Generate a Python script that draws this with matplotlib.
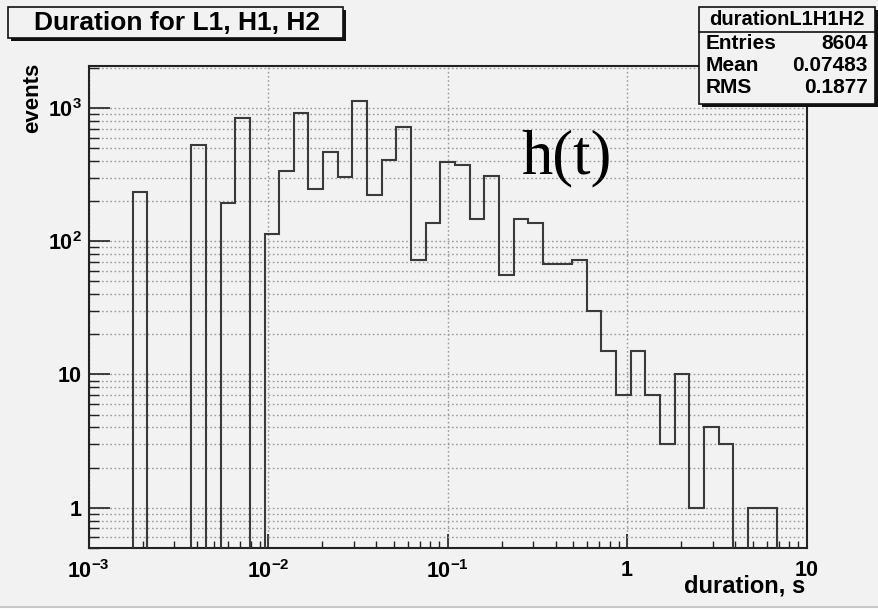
import numpy as np
import matplotlib
matplotlib.use('Agg')
import matplotlib.pyplot as plt
from matplotlib.patches import Rectangle
from matplotlib.lines import Line2D
from matplotlib.ticker import LogLocator, FixedLocator, FixedFormatter, NullFormatter

# 49 log-spaced bins between 1 ms and 10 s
n_bins = 49
x_min, x_max = 1e-3, 10.0
counts = [0, 0, 0, 235, 0, 0, 0, 530, 0, 194,
          841, 0, 113, 338, 922, 246, 469, 303, 1135, 223,
          404, 724, 72, 137, 393, 373, 146, 310, 56, 146,
          138, 68, 68, 72, 30, 15, 7, 15, 7, 3,
          10, 1, 4, 3, 0, 1, 1, 0, 0]

hist_name = 'durationL1H1H2'
stats_labels = ['Entries', 'Mean', 'RMS']
stats_values = ['8604', '0.07483', '0.1877']

x_ticks = [1e-3, 1e-2, 1e-1, 1, 10]
x_ticklabels = ['$10^{-3}$', '$10^{-2}$', '$10^{-1}$', '1', '10']
y_ticks = [1, 10, 100, 1000]
y_ticklabels = ['1', '10', '$10^{2}$', '$10^{3}$']

W, H = 879, 611
bg = '#f2f2f2'

plt.rcParams['font.family'] = 'Liberation Sans'
plt.rcParams['font.weight'] = 'bold'
plt.rcParams['mathtext.fontset'] = 'custom'
plt.rcParams['mathtext.rm'] = 'Liberation Sans:bold'
plt.rcParams['mathtext.it'] = 'Liberation Sans:bold'
plt.rcParams['mathtext.bf'] = 'Liberation Sans:bold'


def fx(px):
    return px / W


def fy(py):
    return 1 - py / H


fig = plt.figure(figsize=(W / 100, H / 100), dpi=100, facecolor=bg)
ax = fig.add_axes([fx(88.7), fy(547.7), fx(806.6) - fx(88.7), fy(65.7) - fy(547.7)])
ax.set_facecolor(bg)
ax.set_xscale('log')
ax.set_yscale('log')
y_lo, y_hi = 0.5, 2080
ax.set_xlim(x_min, x_max)
ax.set_ylim(y_lo, y_hi)

edges = np.logspace(np.log10(x_min), np.log10(x_max), n_bins + 1)
vals = np.array(counts, dtype=float)
vals_draw = np.where(vals > 0, vals, y_lo * 0.5)
ax.stairs(vals_draw, edges, baseline=y_lo * 0.5, color='#3a3a3a', lw=1.5, zorder=3)

# ticks
ax.xaxis.set_major_locator(FixedLocator(x_ticks))
ax.xaxis.set_major_formatter(FixedFormatter(x_ticklabels))
ax.xaxis.set_minor_locator(LogLocator(base=10, subs=np.arange(2, 10), numticks=20))
ax.xaxis.set_minor_formatter(NullFormatter())
ax.yaxis.set_major_locator(FixedLocator(y_ticks))
ax.yaxis.set_major_formatter(FixedFormatter(y_ticklabels))
ax.yaxis.set_minor_locator(LogLocator(base=10, subs=np.arange(2, 10), numticks=20))
ax.yaxis.set_minor_formatter(NullFormatter())
ax.tick_params(axis='x', which='major', direction='in', length=10, width=1.2,
               labelsize=15.5, pad=9, top=False, color='#222')
ax.tick_params(axis='x', which='minor', direction='in', length=5, width=1, top=False, color='#222')
ax.tick_params(axis='y', which='major', direction='in', length=15, width=1.2,
               labelsize=15.5, pad=5, right=False, color='#222')
ax.tick_params(axis='y', which='minor', direction='in', length=7.5, width=1, right=False, color='#222')

dot = (0, (1.2, 1.8))
ax.grid(True, axis='x', which='major', color='#9a9a9a', lw=1, linestyle=dot, zorder=1)
ax.grid(True, axis='y', which='both', color='#9a9a9a', lw=1, linestyle=dot, zorder=1)
for s in ax.spines.values():
    s.set_linewidth(1.5)
    s.set_color('#222')

fig.text(fx(805), fy(593), 'duration, s', ha='right', va='baseline', fontsize=17, fontweight='bold')
fig.text(fx(33), fy(63), 'events', rotation=90, ha='center', va='top', fontsize=16, fontweight='bold')
fig.text(fx(521), fy(173), 'h(t)', family='Liberation Serif', fontweight='normal',
         fontsize=45, ha='left', va='baseline')


def shadow_box(x0, y0, x1, y1):
    fig.patches.append(Rectangle((fx(x0 + 3), fy(y1 + 3)), fx(x1 - x0), fy(y0) - fy(y1),
                                 transform=fig.transFigure, facecolor='#111', edgecolor='none', zorder=5))
    fig.patches.append(Rectangle((fx(x0), fy(y1)), fx(x1 - x0), fy(y0) - fy(y1),
                                 transform=fig.transFigure, facecolor=bg, edgecolor='#111', lw=1.2, zorder=6))


# title box
shadow_box(8, 7, 343, 38)
fig.text(fx(177), fy(23), 'Duration for L1, H1, H2', ha='center', va='center',
         fontsize=19, fontweight='bold', zorder=7)

# stats box
shadow_box(699, 7, 875, 104)
fig.lines.append(Line2D([fx(699), fx(875)], [fy(32), fy(32)], transform=fig.transFigure,
                        color='#111', lw=1.2, zorder=7))
fig.text(fx(787), fy(19.5), hist_name, ha='center', va='center', fontsize=14.5,
         fontweight='bold', zorder=7)
for i, (lab, val) in enumerate(zip(stats_labels, stats_values)):
    yy = fy(43.5 + 22 * i)
    fig.text(fx(706), yy, lab, ha='left', va='center', fontsize=15, fontweight='bold', zorder=7)
    fig.text(fx(868), yy, val, ha='right', va='center', fontsize=15, fontweight='bold', zorder=7)

# bottom edge of the canvas
fig.patches.append(Rectangle((0, 0), 1, fy(606.5), transform=fig.transFigure,
                             facecolor='white', edgecolor='none', zorder=0))
fig.lines.append(Line2D([0, 1], [fy(606.5), fy(606.5)], transform=fig.transFigure,
                        color='#c8c8c8', lw=1.5, zorder=1))

fig.savefig('out.png', dpi=100, facecolor=bg)
